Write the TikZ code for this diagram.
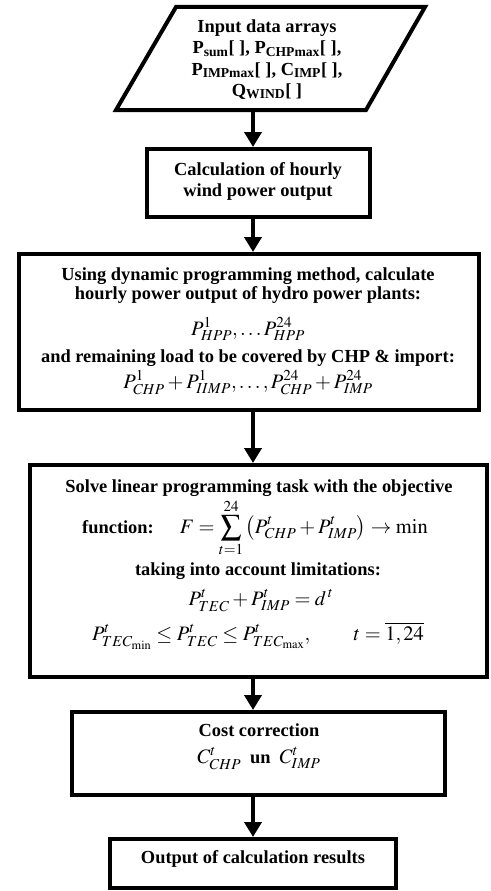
\documentclass[tikz,border=0pt]{standalone}
\usepackage{mathptmx}
\usepackage[no-math]{fontspec}
\setmainfont{Liberation Serif}
\usetikzlibrary{arrows.meta}
\newcommand{\mth}[1]{{\fontsize{20.5}{24}\selectfont$#1$}}
\begin{document}
\begin{tikzpicture}[x=1pt,y=-1pt,
  box/.style={draw, line width=4pt, inner sep=0pt, outer sep=2pt},
  txt/.style={anchor=base, inner sep=0pt, font=\bfseries\fontsize{18.4}{21}\selectfont},
  arr/.style={line width=4pt, -{Triangle[width=17pt,length=15pt]}}]
\useasboundingbox (0,0) rectangle (490,891);
\coordinate (axis) at (253,0);
% input parallelogram
\draw[line width=4pt, line join=miter] (176,7) -- (425,7) -- (366,110) -- (116,110) -- cycle;
\coordinate (inb) at (253,112);
\node[txt] (t1) at (267,33) {Input data arrays};
\node[txt] (t2) at (267,54) {P\textsubscript{sum}[ ], P\textsubscript{CHPmax}[ ],};
\node[txt] (t3) at (267,75) {P\textsubscript{IMPmax}[ ], C\textsubscript{IMP}[ ],};
\node[txt] (t4) at (267,96) {Q\textsubscript{WIND}[ ]};
% boxes
\node[box, minimum width=223pt, minimum height=68pt] (b2) at (258.5,183) {};
\node[box, minimum width=460pt, minimum height=156pt] (b3) at (249,332) {};
\node[box, minimum width=457pt, minimum height=212pt] (b4) at (258.5,571) {};
\node[box, minimum width=373pt, minimum height=83pt] (b5) at (258.5,753.5) {};
\node[box, minimum width=286pt, minimum height=49pt] (b6) at (253,863.5) {};
% box 2 text
\node[txt] (c1) at (258,175) {Calculation of hourly};
\node[txt] (c2) at (258,196) {wind power output};
% box 3 text
\node[txt] (d1) at (248,280) {Using dynamic programming method, calculate};
\node[txt] (d2) at (248,299) {hourly power output of hydro power plants:};
\node[txt] (d3) at (248,335) {\mth{P_{HPP}^{1},\ldots P_{HPP}^{24}}};
\node[txt] (d4) at (248,362) {and remaining load to be covered by CHP \& import:};
\node[txt] (d5) at (248,388) {\mth{P_{CHP}^{1}+P_{IIMP}^{1},\ldots,P_{CHP}^{24}+P_{IMP}^{24}}};
% box 4 text
\node[txt] (e1) at (259,492) {Solve linear programming task with the objective};
\node[txt] (e2) at (255,533) {function:\hspace{26pt}\mth{F=\displaystyle\sum_{t=1}^{24}\left(P_{CHP}^{t}+P_{IMP}^{t}\right)\to\min}};
\node[txt] (e3) at (258,575) {taking into account limitations:};
\node[txt] (e4) at (261,605) {\mth{P_{TEC}^{t}+P_{IMP}^{t}=d^{\,t}}};
\node[txt] (e5) at (258,640) {\mth{P_{TEC_{\mathrm{min}}}^{t}\le P_{TEC}^{t}\le P_{TEC_{\mathrm{max}}}^{t},\qquad t=\overline{1,24}}};
% box 5 text
\node[txt] (f1) at (259,736) {Cost correction};
\node[txt] (f2) at (259,763) {\mth{C_{CHP}^{t}}\hspace{9pt}un\hspace{9pt}\mth{C_{IMP}^{t}}};
% box 6 text
\node[txt] (g1) at (253,863) {Output of calculation results};
% arrows
\draw[arr] (inb) -- (b2.north -| axis);
\draw[arr] (b2.south -| axis) -- (b3.north -| axis);
\draw[arr] (b3.south -| axis) -- (b4.north -| axis);
\draw[arr] (b4.south -| axis) -- (b5.north -| axis);
\draw[arr] (b5.south -| axis) -- (b6.north -| axis);
\end{tikzpicture}
\end{document}
